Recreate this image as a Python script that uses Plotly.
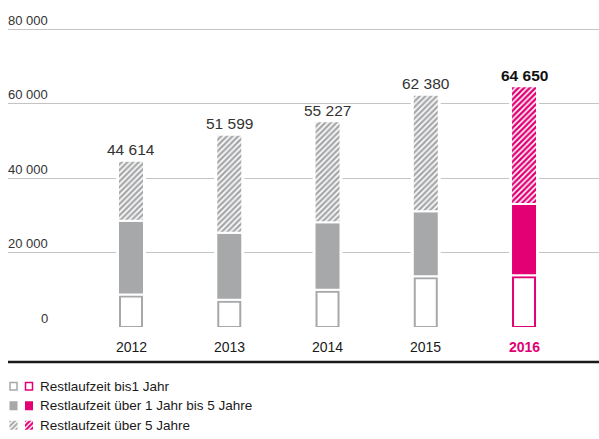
import plotly.graph_objects as go

# values (Mio. EUR)
years = ['2012', '2013', '2014', '2015', '2016']
bis_1_jahr = [8700, 7300, 10000, 13600, 13900]
ueber_1_bis_5 = [19800, 18000, 18100, 17500, 19100]
ueber_5 = [16114, 26299, 27127, 31280, 31650]
totals = [44614, 51599, 55227, 62380, 64650]
y_ticks = [0, 20000, 40000, 60000, 80000]
legend_labels = ['Restlaufzeit bis1 Jahr',
                 'Restlaufzeit über 1 Jahr bis 5 Jahre',
                 'Restlaufzeit über 5 Jahre']

GRAY = '#a7a8aa'
MAGENTA = '#e20074'
W, H = 599, 439
FONT = 'Liberation Sans'

# pixel geometry of the plot area (80 000 sits at px 29, 0 at px 327)
px_left, px_right, px_bottom = 8, 599, 327
uy = 80000 / (px_bottom - 29)            # data units per px (y)
px_top = 27                              # 2px headroom so the top gridline is drawn
y_range = [0, 80000 + 2 * uy]
x_range = [-1.252, 4.763]
ux = (x_range[1] - x_range[0]) / (px_right - px_left)

xs = list(range(len(years)))
fill = [GRAY] * 4 + [MAGENTA]
bases_mid = bis_1_jahr
bases_top = [a + b for a, b in zip(bis_1_jahr, ueber_1_bis_5)]

fig = go.Figure()

# white halo behind each stack (breaks the gridlines around the bars)
fig.add_trace(go.Bar(x=xs, y=[t + 1 * uy for t in totals], base=[1.5 * uy] * 5,
                     width=30 * ux, marker=dict(color='white', line=dict(width=0)),
                     hoverinfo='skip'))
# < 1 year: outlined box
fig.add_trace(go.Bar(x=xs, y=[v - 2 * uy for v in bis_1_jahr], base=[0] * 5,
                     width=22 * ux,
                     marker=dict(color='white', line=dict(color=fill, width=2))))
# 1-5 years: solid
fig.add_trace(go.Bar(x=xs, y=ueber_1_bis_5, base=bases_mid, width=26 * ux,
                     marker=dict(color=fill, line=dict(color='white', width=2))))
# > 5 years: hatched
fig.add_trace(go.Bar(x=xs, y=ueber_5, base=bases_top, width=26 * ux,
                     marker=dict(color='white', line=dict(color='white', width=2),
                                 pattern=dict(shape='/', bgcolor='white', fgcolor=fill,
                                              fillmode='replace', size=4, solidity=0.6))))

# total labels
for i, t in enumerate(totals):
    txt = f'{t:,}'.replace(',', ' ')
    last = i == len(totals) - 1
    fig.add_annotation(x=i, y=t, text=f'<b>{txt}</b>' if last else txt, showarrow=False,
                       yanchor='middle', yshift=11,
                       font=dict(family=FONT, size=15.5, color='#111' if last else '#333'))

# year labels
for i, yr in enumerate(years):
    last = i == len(years) - 1
    fig.add_annotation(x=i, xref='x', y=1 - 347 / H, yref='paper',
                       text=f'<b>{yr}</b>' if last else yr, showarrow=False, yanchor='middle',
                       font=dict(family=FONT, size=14, color=MAGENTA if last else '#1a1a1a'))

# y tick labels sit above the gridlines, right aligned
for v in y_ticks:
    fig.add_annotation(x=50 / W, xref='paper', y=v, yref='y', text=f'{v:,}'.replace(',', ' '),
                       showarrow=False, xanchor='right', yanchor='middle', yshift=9,
                       font=dict(family=FONT, size=13, color='#333'))

# thick rule under the years
fig.add_shape(type='line', xref='paper', yref='paper', x0=px_left / W, x1=1,
              y0=1 - 362 / H, y1=1 - 362 / H, line=dict(color='#1a1a1a', width=2.5))

# legend swatches on their own small axes
rows = [0, 1, 2]
fig.add_trace(go.Bar(y=[0, 0], x=[7, 7], base=[10, 25.5], orientation='h', width=0.38,
                     xaxis='x2', yaxis='y2',
                     marker=dict(color='white', line=dict(color=[GRAY, MAGENTA], width=1.5))))
fig.add_trace(go.Bar(y=[1, 1], x=[8, 8], base=[9.5, 25], orientation='h', width=0.46,
                     xaxis='x2', yaxis='y2',
                     marker=dict(color=[GRAY, MAGENTA], line=dict(width=0))))
fig.add_trace(go.Bar(y=[2, 2], x=[8, 8], base=[9.5, 25], orientation='h', width=0.46,
                     xaxis='x2', yaxis='y2',
                     marker=dict(color='white', line=dict(width=0),
                                 pattern=dict(shape='/', bgcolor='white', fgcolor=[GRAY, MAGENTA],
                                              fillmode='replace', size=3.5, solidity=0.6))))
for r, lab in zip(rows, legend_labels):
    fig.add_annotation(x=38 / W, xref='paper', y=r, yref='y2', text=lab, showarrow=False,
                       xanchor='left', yanchor='middle',
                       font=dict(family=FONT, size=13.5, color='#1a1a1a'))

fig.update_layout(
    width=W, height=H, margin=dict(l=0, r=0, t=0, b=0),
    paper_bgcolor='white', plot_bgcolor='white',
    barmode='overlay', showlegend=False, hovermode=False,
    xaxis=dict(domain=[px_left / W, 1], range=x_range, showgrid=False, showticklabels=False,
               zeroline=False, fixedrange=True),
    yaxis=dict(domain=[1 - px_bottom / H, 1 - px_top / H], range=y_range, tickvals=y_ticks,
               showticklabels=False, showgrid=True, gridcolor='#c4c4c4', gridwidth=1,
               zeroline=False),
    xaxis2=dict(domain=[0, 40 / W], range=[0, 40], visible=False, anchor='y2'),
    yaxis2=dict(domain=[1 - 435 / H, 1 - 376.5 / H], range=[2.5, -0.5], visible=False,
                anchor='x2'),
)

# the page's default body margin would push the figure 8px right and down
fig.write_html('out.html', config={'displayModeBar': False},
               post_script="document.body.style.margin='0';")
